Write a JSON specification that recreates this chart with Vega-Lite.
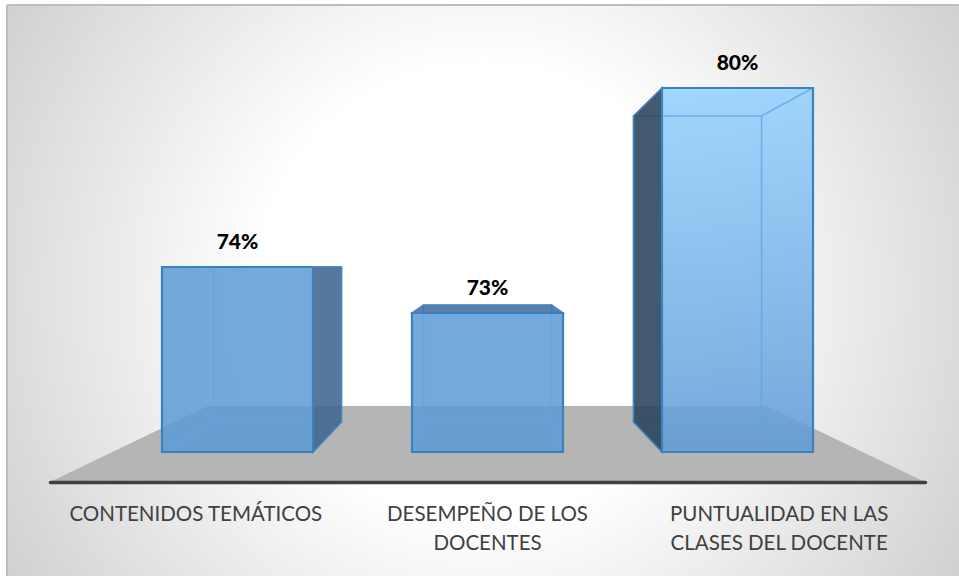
{
  "$schema": "https://vega.github.io/schema/vega-lite/v6.json",
  "width": 952,
  "height": 571,
  "autosize": "none",
  "padding": {"left": 7, "top": 5, "right": 0, "bottom": 1},
  "background": "#ffffff",
  "config": {
    "font": "Lato",
    "view": {
      "stroke": null,
      "fill": {
        "gradient": "radial",
        "x1": 0.5, "y1": 0.5, "r1": 0,
        "x2": 0.5, "y2": 0.5, "r2": 0.72,
        "stops": [
          {"offset": 0, "color": "#ffffff"},
          {"offset": 0.33, "color": "#ffffff"},
          {"offset": 1, "color": "#bebebe"}
        ]
      }
    }
  },
  "datasets": {
    "barras": [
      {"categoria": "CONTENIDOS TEMÁTICOS", "valor": 74, "orden": 0},
      {"categoria": "DESEMPEÑO DE LOS DOCENTES", "valor": 73, "orden": 1},
      {"categoria": "PUNTUALIDAD EN LAS CLASES DEL DOCENTE", "valor": 80, "orden": 2}
    ],
    "suelo": [
      {"plano": "fondo"},
      {"plano": "frente"}
    ],
    "marco": [
      {"borde": "superior"}
    ]
  },
  "resolve": {
    "scale": {"x": "independent", "y": "independent", "color": "independent"},
    "axis": {"x": "independent", "y": "independent"}
  },
  "layer": [
    {
      "description": "Top edge of the chart frame",
      "data": {"name": "marco"},
      "mark": {"type": "rule", "stroke": "#bdbdbd", "strokeWidth": 2},
      "encoding": {
        "x": {"datum": 0, "type": "quantitative", "axis": null, "scale": {"domain": [0, 952], "range": [0, 952], "nice": false, "zero": false}},
        "x2": {"datum": 952},
        "y": {"datum": 0, "type": "quantitative", "axis": null, "scale": {"domain": [0, 571], "range": [0, 571], "nice": false, "zero": false}}
      }
    },
    {
      "description": "Left edge of the chart frame",
      "data": {"name": "marco"},
      "mark": {"type": "rule", "stroke": "#bdbdbd", "strokeWidth": 2},
      "encoding": {
        "x": {"datum": 0, "type": "quantitative", "axis": null, "scale": {"domain": [0, 952], "range": [0, 952], "nice": false, "zero": false}},
        "y": {"datum": 0, "type": "quantitative", "axis": null, "scale": {"domain": [0, 571], "range": [0, 571], "nice": false, "zero": false}},
        "y2": {"datum": 571}
      }
    },
    {
      "description": "Floor plane in scene units",
      "data": {"name": "suelo"},
      "transform": [
        {"calculate": "datum.plano === 'fondo' ? 401 : 477", "as": "py"},
        {"calculate": "datum.plano === 'fondo' ? 201 : 43", "as": "px1"},
        {"calculate": "datum.plano === 'fondo' ? 760 : 918", "as": "px2"}
      ],
      "mark": {"type": "area", "orient": "horizontal", "color": "#b5b5b5", "opacity": 1},
      "encoding": {
        "y": {"field": "py", "type": "quantitative", "axis": null, "scale": {"domain": [0, 571], "range": [0, 571], "nice": false, "zero": false}},
        "x": {"field": "px1", "type": "quantitative", "axis": null, "scale": {"domain": [0, 952], "range": [0, 952], "nice": false, "zero": false}},
        "x2": {"field": "px2"}
      }
    },
    {
      "description": "Category axis along the front edge of the floor",
      "data": {"name": "barras"},
      "mark": {"type": "rule", "opacity": 0},
      "encoding": {
        "x": {
          "field": "categoria",
          "type": "nominal",
          "sort": null,
          "title": null,
          "scale": {"range": [43, 918], "paddingInner": 0, "paddingOuter": 0},
          "axis": {
            "orient": "bottom",
            "offset": -94,
            "zindex": 1,
            "ticks": false,
            "grid": false,
            "domain": true,
            "domainColor": "#404040",
            "domainWidth": 3.5,
            "domainCap": "round",
            "labelAngle": 0,
            "labelFont": "Lato",
            "labelFontSize": 20.5,
            "labelColor": "#404040",
            "labelPadding": 22,
            "labelLimit": 400,
            "labelLineHeight": 29,
            "labelExpr": "datum.label === 'DESEMPEÑO DE LOS DOCENTES' ? ['DESEMPEÑO DE LOS', 'DOCENTES'] : datum.label === 'PUNTUALIDAD EN LAS CLASES DEL DOCENTE' ? ['PUNTUALIDAD EN LAS', 'CLASES DEL DOCENTE'] : datum.label"
          }
        }
      }
    },
    {
      "description": "Translucent front faces of the first two boxes",
      "data": {"name": "barras"},
      "transform": [{"filter": "datum.orden !== 2"}],
      "mark": {"type": "bar", "color": "#5b9bd5", "fillOpacity": 0.85},
      "encoding": {
        "x": {"field": "categoria", "type": "nominal", "sort": null, "axis": null, "scale": {"domain": ["CONTENIDOS TEMÁTICOS", "DESEMPEÑO DE LOS DOCENTES", "PUNTUALIDAD EN LAS CLASES DEL DOCENTE"], "range": [105.5, 855.5], "paddingInner": 0.396, "paddingOuter": 0.198}},
        "y": {"field": "valor", "type": "quantitative", "axis": null, "scale": {"domain": [69, 73, 74, 80], "range": [447, 308, 262, 83], "nice": false, "zero": false}},
        "y2": {"datum": 69}
      }
    },
    {
      "description": "Front face of the tallest box, lighter towards the top",
      "data": {"name": "barras"},
      "transform": [{"filter": "datum.orden === 2"}],
      "mark": {
        "type": "bar",
        "fillOpacity": 0.85,
        "color": {
          "gradient": "linear", "x1": 0, "y1": 0, "x2": 0, "y2": 1,
          "stops": [
            {"offset": 0, "color": "#92d0ff"},
            {"offset": 1, "color": "#5d9bd5"}
          ]
        }
      },
      "encoding": {
        "x": {"field": "categoria", "type": "nominal", "sort": null, "axis": null, "scale": {"domain": ["CONTENIDOS TEMÁTICOS", "DESEMPEÑO DE LOS DOCENTES", "PUNTUALIDAD EN LAS CLASES DEL DOCENTE"], "range": [105.5, 855.5], "paddingInner": 0.396, "paddingOuter": 0.198}},
        "y": {"field": "valor", "type": "quantitative", "axis": null, "scale": {"domain": [69, 73, 74, 80], "range": [447, 308, 262, 83], "nice": false, "zero": false}},
        "y2": {"datum": 69}
      }
    },
    {
      "description": "Back rectangle of each box, seen through the front",
      "data": {"name": "barras"},
      "mark": {"type": "bar", "filled": false, "stroke": "#5fa5e6", "strokeWidth": 1.5, "strokeOpacity": 0.8},
      "encoding": {
        "x": {"field": "categoria", "type": "nominal", "sort": null, "axis": null, "scale": {"domain": ["CONTENIDOS TEMÁTICOS", "DESEMPEÑO DE LOS DOCENTES", "PUNTUALIDAD EN LAS CLASES DEL DOCENTE"], "range": [165.5, 795.5], "paddingInner": 0.39, "paddingOuter": 0.195}},
        "y": {"field": "valor", "type": "quantitative", "axis": null, "scale": {"domain": [69, 73, 74, 80], "range": [417, 300, 262, 111], "nice": false, "zero": false}},
        "y2": {"datum": 69}
      }
    },
    {
      "description": "Depth edges joining the front and back corners",
      "data": {"name": "barras"},
      "transform": [
        {"calculate": "datum.valor <= 74 ? 308 - 46 * (datum.valor - 73) : 262 - (179 / 6) * (datum.valor - 74)", "as": "topF"},
        {"calculate": "datum.valor <= 74 ? 300 - 38 * (datum.valor - 73) : 262 - (151 / 6) * (datum.valor - 74)", "as": "topB"},
        {"calculate": "[0, 1]", "as": "prof"},
        {"flatten": ["prof"]},
        {"calculate": "['si', 'sd', 'ii', 'id']", "as": "esquina"},
        {"flatten": ["esquina"]},
        {"calculate": "substring(datum.esquina, 1) === 'i' ? (datum.prof === 0 ? 155 + 250 * datum.orden : 206.5 + 210 * datum.orden) : (datum.prof === 0 ? 306 + 250 * datum.orden : 334.5 + 210 * datum.orden)", "as": "px"},
        {"calculate": "substring(datum.esquina, 0, 1) === 's' ? (datum.prof === 0 ? datum.topF : datum.topB) : (datum.prof === 0 ? 447 : 417)", "as": "py"}
      ],
      "mark": {"type": "line", "stroke": "#5fa5e6", "strokeWidth": 1.5, "opacity": 0.8},
      "encoding": {
        "x": {"field": "px", "type": "quantitative", "axis": null, "scale": {"domain": [0, 952], "range": [0, 952], "nice": false, "zero": false}},
        "y": {"field": "py", "type": "quantitative", "axis": null, "scale": {"domain": [0, 571], "range": [0, 571], "nice": false, "zero": false}},
        "detail": [
          {"field": "categoria", "type": "nominal"},
          {"field": "esquina", "type": "nominal"}
        ]
      }
    },
    {
      "description": "Dark side wall of the first and third boxes",
      "data": {"name": "barras"},
      "transform": [
        {"filter": "datum.orden !== 1"},
        {"calculate": "datum.valor <= 74 ? 308 - 46 * (datum.valor - 73) : 262 - (179 / 6) * (datum.valor - 74)", "as": "topF"},
        {"calculate": "datum.valor <= 74 ? 300 - 38 * (datum.valor - 73) : 262 - (151 / 6) * (datum.valor - 74)", "as": "topB"},
        {"calculate": "[0, 1]", "as": "prof"},
        {"flatten": ["prof"]},
        {"calculate": "datum.orden === 0 ? (datum.prof === 0 ? 306 + 250 * datum.orden : 334.5 + 210 * datum.orden) : (datum.prof === 0 ? 155 + 250 * datum.orden : 206.5 + 210 * datum.orden)", "as": "px"},
        {"calculate": "datum.prof === 0 ? datum.topF : datum.topB", "as": "py"},
        {"calculate": "datum.prof === 0 ? 447 : 417", "as": "py2"}
      ],
      "mark": {"type": "area", "opacity": 0.88, "stroke": "#3d80c0", "strokeWidth": 1.5},
      "encoding": {
        "x": {"field": "px", "type": "quantitative", "axis": null, "scale": {"domain": [0, 952], "range": [0, 952], "nice": false, "zero": false}},
        "y": {"field": "py", "type": "quantitative", "axis": null, "scale": {"domain": [0, 571], "range": [0, 571], "nice": false, "zero": false}},
        "y2": {"field": "py2"},
        "color": {
          "field": "categoria",
          "type": "nominal",
          "legend": null,
          "scale": {"domain": ["CONTENIDOS TEMÁTICOS", "PUNTUALIDAD EN LAS CLASES DEL DOCENTE"], "range": ["#3f6690", "#29435c"]}
        }
      }
    },
    {
      "description": "Dark top face of the middle box",
      "data": {"name": "barras"},
      "transform": [
        {"filter": "datum.orden === 1"},
        {"calculate": "[0, 1]", "as": "prof"},
        {"flatten": ["prof"]},
        {"calculate": "datum.prof === 0 ? 308 - 46 * (datum.valor - 73) : 300 - 38 * (datum.valor - 73)", "as": "py"},
        {"calculate": "datum.prof === 0 ? 155 + 250 * datum.orden : 206.5 + 210 * datum.orden", "as": "px1"},
        {"calculate": "datum.prof === 0 ? 306 + 250 * datum.orden : 334.5 + 210 * datum.orden", "as": "px2"}
      ],
      "mark": {"type": "area", "orient": "horizontal", "color": "#446f9d", "opacity": 0.88, "stroke": "#3d80c0", "strokeWidth": 1.5},
      "encoding": {
        "y": {"field": "py", "type": "quantitative", "axis": null, "scale": {"domain": [0, 571], "range": [0, 571], "nice": false, "zero": false}},
        "x": {"field": "px1", "type": "quantitative", "axis": null, "scale": {"domain": [0, 952], "range": [0, 952], "nice": false, "zero": false}},
        "x2": {"field": "px2"}
      }
    },
    {
      "description": "Outline of the front faces",
      "data": {"name": "barras"},
      "mark": {"type": "bar", "filled": false, "stroke": "#3d80c0", "strokeWidth": 2.2},
      "encoding": {
        "x": {"field": "categoria", "type": "nominal", "sort": null, "axis": null, "scale": {"domain": ["CONTENIDOS TEMÁTICOS", "DESEMPEÑO DE LOS DOCENTES", "PUNTUALIDAD EN LAS CLASES DEL DOCENTE"], "range": [105.5, 855.5], "paddingInner": 0.396, "paddingOuter": 0.198}},
        "y": {"field": "valor", "type": "quantitative", "axis": null, "scale": {"domain": [69, 73, 74, 80], "range": [447, 308, 262, 83], "nice": false, "zero": false}},
        "y2": {"datum": 69}
      }
    },
    {
      "description": "Percentage above each box",
      "data": {"name": "barras"},
      "transform": [{"calculate": "datum.valor + '%'", "as": "etiqueta"}],
      "mark": {"type": "text", "font": "Lato", "fontWeight": 900, "fontSize": 21, "color": "#000000", "dy": -24, "align": "center", "baseline": "middle"},
      "encoding": {
        "x": {"field": "categoria", "type": "nominal", "sort": null, "axis": null, "scale": {"domain": ["CONTENIDOS TEMÁTICOS", "DESEMPEÑO DE LOS DOCENTES", "PUNTUALIDAD EN LAS CLASES DEL DOCENTE"], "range": [105.5, 855.5], "paddingInner": 0.396, "paddingOuter": 0.198}},
        "y": {"field": "valor", "type": "quantitative", "axis": null, "scale": {"domain": [69, 73, 74, 80], "range": [447, 308, 262, 83], "nice": false, "zero": false}},
        "text": {"field": "etiqueta", "type": "nominal"}
      }
    }
  ]
}
